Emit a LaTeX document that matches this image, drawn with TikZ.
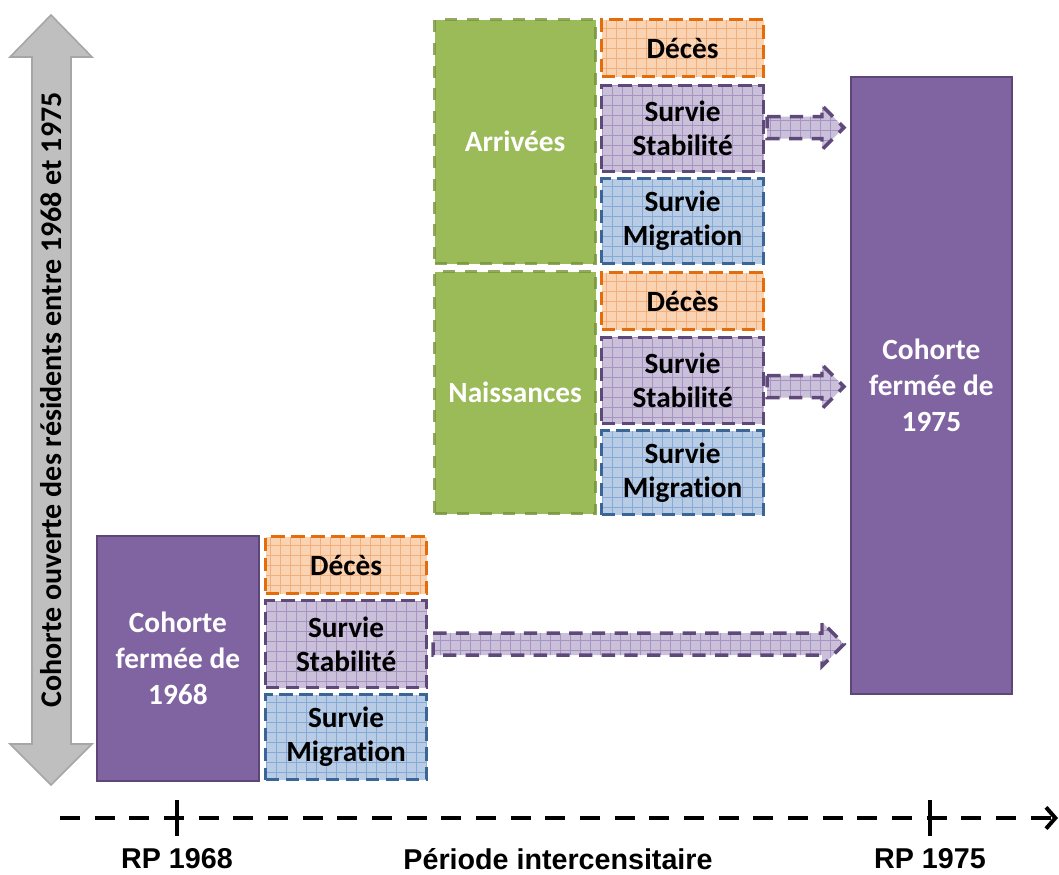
\documentclass[tikz,border=0pt]{standalone}
\usepackage{fontspec}
\setmainfont{Carlito}[Ligatures={NoCommon}]
\newfontfamily\axisfont{Liberation Sans}
\usetikzlibrary{arrows.meta,calc}

\definecolor{orangefill}{HTML}{FAD3B3}
\definecolor{orangegrid}{HTML}{F2AE7C}
\definecolor{orangeline}{HTML}{E46C0A}
\definecolor{lilacfill}{HTML}{CBC0DA}
\definecolor{lilacgrid}{HTML}{A593C2}
\definecolor{lilacline}{HTML}{5F497A}
\definecolor{bluefill}{HTML}{B8CCE5}
\definecolor{bluegrid}{HTML}{86A9D6}
\definecolor{blueline}{HTML}{3A6597}
\definecolor{greenfill}{HTML}{9BBB59}
\definecolor{greenline}{HTML}{77933C}
\definecolor{cohort}{HTML}{8064A2}
\definecolor{cohortline}{HTML}{5C4776}
\definecolor{greyfill}{HTML}{BFBFBF}
\definecolor{greyline}{HTML}{A6A6A6}

\tikzset{
  gridfill/.style={path picture={\draw[#1,solid,line width=0.5pt,step=7.5pt]
      (path picture bounding box.south west) grid (path picture bounding box.north east);}},
  boxtext/.style={font=\bfseries\fontsize{22}{25.5}\selectfont, align=center, inner sep=0pt},
  cell/.style={boxtext, anchor=north west, text=black, line width=2.4pt,
      dash pattern=on 10pt off 5pt, minimum width=161*0.75pt},
  deces/.style={cell, fill=orangefill, draw=orangeline, gridfill=orangegrid},
  stab/.style={cell, fill=lilacfill, draw=lilacline, gridfill=lilacgrid},
  migr/.style={cell, fill=bluefill, draw=blueline, gridfill=bluegrid},
  entry/.style={boxtext, anchor=north west, text=white, fill=greenfill, draw=greenline,
      draw opacity=0.8, line width=2.4pt, dash pattern=on 9pt off 8pt, minimum width=161*0.75pt},
  cohortbox/.style={anchor=north west, fill=cohort, draw=cohortline, line width=1.3pt,
      text=white, font=\bfseries\fontsize{22}{27}\selectfont, align=center,
      minimum width=161*0.75pt},
  fatarr/.style={fill=lilacfill, draw=lilacline, line width=2.6pt,
      dash pattern=on 10pt off 7pt, gridfill=lilacgrid},
  timeline/.style={line width=3pt, dash pattern=on 15pt off 11pt,
      -{Straight Barb[length=7pt,width=16pt,line width=3pt]}},
  tick/.style={line width=3pt},
  axislabel/.style={font=\axisfont\bfseries\fontsize{21.5}{24}\selectfont, inner sep=0pt},
}

% fat dashed arrow from the east side of #1 to the west side of #2,
% starting #3 to the right of #1 and shifted #4 vertically
\newcommand\fatarrow[4]{%
  \draw[fatarr] let \p1=(#1.east), \p2=(#2.west) in
    ({\x1+(#3)},{\y1+(#4)+8.25pt}) -- ({\x2-21pt},{\y1+(#4)+8.25pt}) --
    ({\x2-21pt},{\y1+(#4)+16.5pt}) -- ({\x2-4.5pt},{\y1+(#4)}) --
    ({\x2-21pt},{\y1+(#4)-16.5pt}) -- ({\x2-21pt},{\y1+(#4)-8.25pt}) --
    ({\x1+(#3)},{\y1+(#4)-8.25pt}) -- cycle;}

\begin{document}
\begin{tikzpicture}[x=0.75pt,y=-0.75pt]
\useasboundingbox (0,0) rectangle (1059,874);

% open cohort: vertical double arrow
\draw[fill=greyfill, draw=greyline, line width=1.2pt, line join=miter]
  (51,15) -- (92,57) -- (71,57) -- (71,744) -- (92,744) -- (51,785) -- (10,744)
  -- (32,744) -- (32,57) -- (10,57) -- cycle;
\node[boxtext, font=\bfseries\fontsize{22.5}{26}\selectfont, rotate=90] (open) at (51,400)
  {Cohorte ouverte des résidents entre 1968 et 1975};

% closed cohort 1968 and its outcomes
\node[cohortbox, minimum width=162*0.75pt, minimum height=245*0.75pt] (c68) at (96,535)
  {Cohorte\\fermée de\\1968};
\node[deces, minimum height=57*0.75pt] (d1) at (264,535) {Décès};
\node[stab,  minimum height=87*0.75pt] (s1) at (264,599) {Survie\\Stabilité};
\node[migr,  minimum height=85*0.75pt] (m1) at (264,693) {Survie\\Migration};

% arrivals
\node[entry, minimum height=244*0.75pt] (arr) at (433,18) {Arrivées};
\node[deces, minimum width=162*0.75pt, minimum height=57*0.75pt] (d2) at (600,18) {Décès};
\node[stab,  minimum width=162*0.75pt, minimum height=86*0.75pt] (s2) at (600,84) {Survie\\Stabilité};
\node[migr,  minimum width=162*0.75pt, minimum height=85*0.75pt] (m2) at (600,177) {Survie\\Migration};

% births
\node[entry, minimum height=242*0.75pt] (nai) at (433,270) {Naissances};
\node[deces, minimum width=162*0.75pt, minimum height=57*0.75pt] (d3) at (600,271) {Décès};
\node[stab,  minimum width=162*0.75pt, minimum height=86*0.75pt] (s3) at (600,336) {Survie\\Stabilité};
\node[migr,  minimum width=162*0.75pt, minimum height=84*0.75pt] (m3) at (600,429) {Survie\\Migration};

% closed cohort 1975
\node[cohortbox, minimum height=617*0.75pt] (c75) at (850,76) {Cohorte\\fermée de\\1975};

% survivors carried over
\fatarrow{s2}{c75}{1.5pt}{0.75pt}
\fatarrow{s3}{c75}{1.5pt}{-4.5pt}
\fatarrow{s1}{c75}{3.75pt}{0pt}

% time axis
\coordinate (t0) at (60,818);
\coordinate (t1) at (1058,818);
\coordinate (rp68) at (177,818);
\coordinate (rp75) at (930,818);
\draw[timeline] (t0) -- (t1);
\draw[tick] ($(rp68)+(0,-18)$) -- ($(rp68)+(0,18)$);
\draw[tick] ($(rp75)+(0,-18)$) -- ($(rp75)+(0,18)$);
\node[axislabel] (l68) at (177,859) {RP 1968};
\node[axislabel] (lper) at (558,859) {Période intercensitaire};
\node[axislabel] (l75) at (930,859) {RP 1975};
\end{tikzpicture}
\end{document}
